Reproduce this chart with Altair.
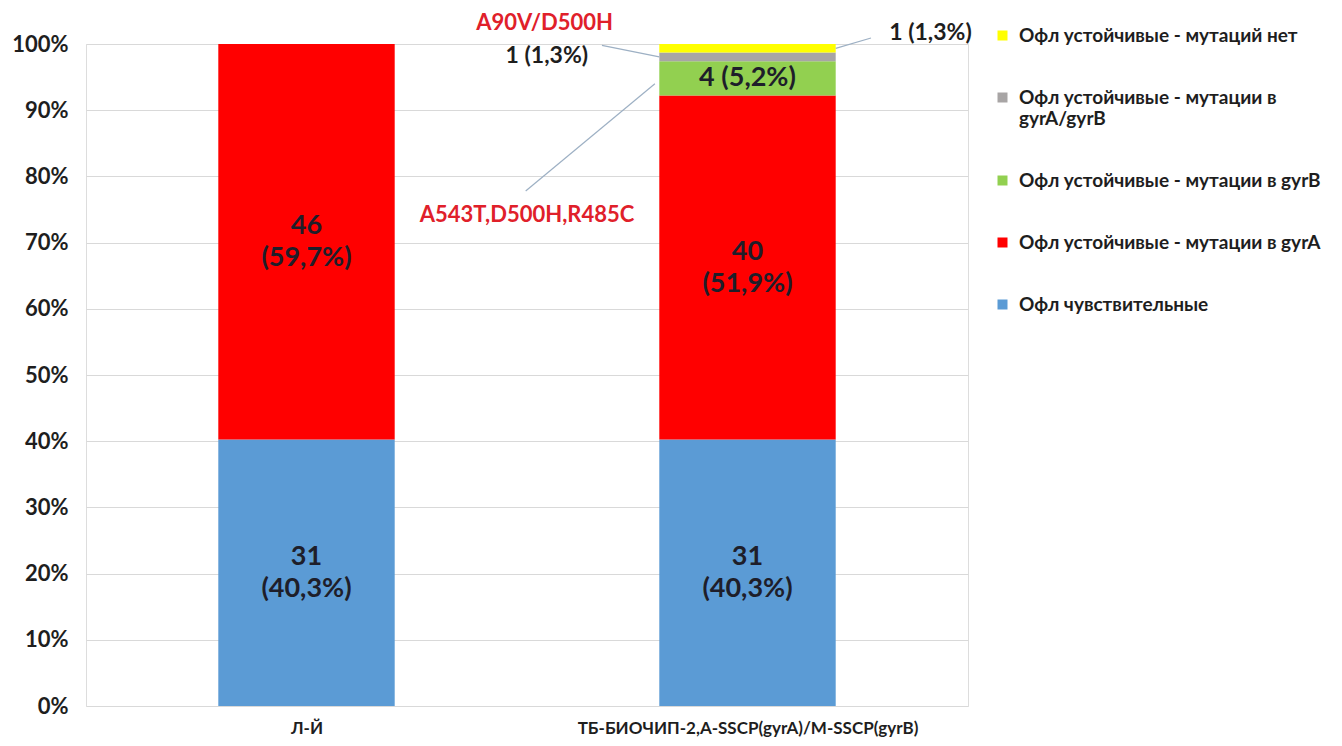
import altair as alt
import pandas as pd

# ---- data ----
categories = ["Л-Й", "ТБ-БИОЧИП-2,A-SSCP(gyrA)/M-SSCP(gyrB)"]
category_pos = [0, 1]
series = [
    "Офл чувствительные",
    "Офл устойчивые - мутации в gyrA",
    "Офл устойчивые - мутации в gyrB",
    "Офл устойчивые - мутации в gyrA/gyrB",
    "Офл устойчивые - мутаций нет",
]
series_colors = ["#5B9BD5", "#FF0000", "#92D050", "#A8A5A5", "#FFFF00"]
counts_li = [31, 46, 0, 0, 0]
counts_tb = [31, 40, 4, 1, 1]

# annotations (data units: x in category positions, y as share of 100%)
ann_text = ["A90V/D500H", "1 (1,3%)", "1 (1,3%)", "A543T,D500H,R485C"]
ann_x = [0.54, 0.545, 1.415, 0.5]
ann_y = [1.032, 0.982, 1.017, 0.741]
ann_color = ["#E0202A", "#1E1E1E", "#1E1E1E", "#E0202A"]
ann_size = [22, 23, 23, 22]

lead_x = [0.67, 1.28, 0.497]
lead_y = [0.998, 1.009, 0.778]
lead_x2 = [0.8, 1.2, 0.79]
lead_y2 = [0.9805, 0.9935, 0.94]

# ---- tables ----
rows = []
for ci, cnts in enumerate([counts_li, counts_tb]):
    total = sum(cnts)
    for si, n in enumerate(cnts):
        if n == 0:
            continue
        pct = f"{n / total * 100:.1f}".replace(".", ",")
        rows.append(dict(cat=categories[ci], pos=category_pos[ci], series=series[si],
                         order=si, n=n, pct=pct))
df = pd.DataFrame(rows)

ann_df = pd.DataFrame(dict(text=ann_text, x=ann_x, y=ann_y, color=ann_color, fs=ann_size))
lead_df = pd.DataFrame(dict(x=lead_x, y=lead_y, x2=lead_x2, y2=lead_y2))

legend_order = list(reversed(series))
legend_colors = list(reversed(series_colors))

FONT = "Lato"
HALF = 0.2  # half bar width in category units
LINE_H = 32

label_expr_x = "[" + ",".join('"' + c + '"' for c in categories) + "][datum.value]"
legend_label_expr = (
    "datum.label == 'Офл устойчивые - мутации в gyrA/gyrB' ? "
    "['Офл устойчивые - мутации в', 'gyrA/gyrB'] : datum.label"
)

x_scale = alt.Scale(domain=[-0.5, 1.5], nice=False, zero=False)
y_scale = alt.Scale(domain=[0, 1], nice=False)

base = (
    alt.Chart(df)
    .transform_stack(stack="n", groupby=["cat"], as_=["y0", "y1"],
                     sort=[alt.SortField("order")], offset="normalize")
    .transform_calculate(
        mid="(datum.y0 + datum.y1) / 2",
        xl=f"datum.pos - {HALF}",
        xr=f"datum.pos + {HALF}",
        big="datum.y1 - datum.y0 > 0.1",
        label2="datum.n + '\\n(' + datum.pct + '%)'",
        label1="datum.n + ' (' + datum.pct + '%)'",
    )
)

bars = base.mark_bar().encode(
    x=alt.X("xl:Q", scale=x_scale,
            axis=alt.Axis(values=category_pos, labelExpr=label_expr_x, title=None, grid=False,
                          domain=False, ticks=False, labelPadding=14, labelFont=FONT,
                          labelFontSize=17, labelFontWeight="bold", labelColor="#1E1E1E",
                          labelLimit=800)),
    x2="xr:Q",
    y=alt.Y("y0:Q", scale=y_scale,
            axis=alt.Axis(values=[i / 10 for i in range(11)], format=".0%", title=None,
                          domain=False, ticks=False, labelPadding=18, labelFont=FONT,
                          labelFontSize=22, labelFontWeight="bold", labelColor="#1E1E1E",
                          gridColor="#D9D9D9", gridWidth=1)),
    y2="y1:Q",
    color=alt.Color("series:N",
                    scale=alt.Scale(domain=legend_order, range=legend_colors),
                    legend=alt.Legend(title=None, orient="none", legendX=907, legendY=-18,
                                      symbolType="square", symbolSize=100, symbolStrokeWidth=0,
                                      labelFont=FONT, labelFontSize=19, labelFontWeight="bold",
                                      labelColor="#1E1E1E", labelLimit=600, rowPadding=42,
                                      labelOffset=7, padding=0, labelExpr=legend_label_expr)),
)

text_style = dict(font=FONT, fontSize=27, fontWeight="bold", color="#1E1E2A",
                  baseline="middle", align="center")

inner_big = base.transform_filter("datum.n > 1 && datum.big").mark_text(
    lineBreak="\n", lineHeight=LINE_H, dy=-LINE_H / 2, **text_style
).encode(x="pos:Q", y="mid:Q", text="label2:N")

inner_small = base.transform_filter("datum.n > 1 && !datum.big").mark_text(
    **text_style
).encode(x="pos:Q", y="mid:Q", text="label1:N")

leads = alt.Chart(lead_df).mark_rule(color="#9DB0C4", strokeWidth=1.2).encode(
    x="x:Q", y="y:Q", x2="x2:Q", y2="y2:Q"
)

ann = alt.Chart(ann_df).mark_text(font=FONT, fontWeight="bold", baseline="middle",
                                  align="center").encode(
    x="x:Q", y="y:Q", text="text:N",
    color=alt.Color("color:N", scale=None),
    size=alt.Size("fs:Q", scale=None),
)

chart = (
    alt.layer(bars, inner_big, inner_small, leads, ann)
    .properties(width=882, height=662,
                autosize=alt.AutoSizeParams(type="none"),
                padding={"left": 78, "top": 36, "right": 366, "bottom": 32})
    .configure_view(stroke=None)
    .configure(background="white")
)

chart.save("out.html", embed_options={"renderer": "svg", "actions": False})
